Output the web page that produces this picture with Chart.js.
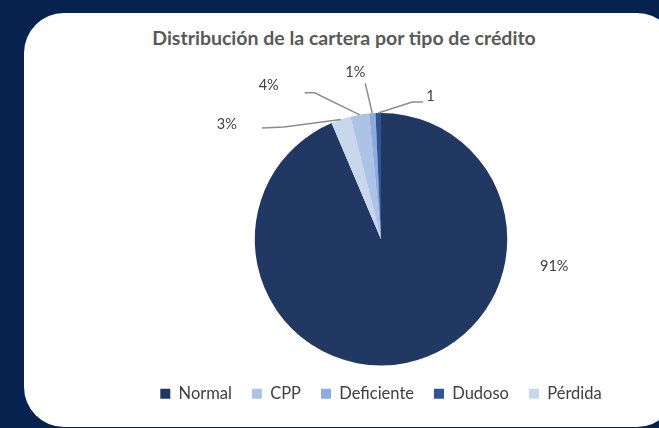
<!DOCTYPE html>
<html>
<head>
    <title>Distribución de la cartera</title>
    <script src="https://cdn.jsdelivr.net/npm/chart.js"></script>
    <style>
        body { margin: 0; width: 659px; height: 428px; background: #062350; overflow: hidden; font-family: Lato, sans-serif; }
        #card { position: absolute; left: 24px; top: 13px; width: 653px; height: 414px; background: #fff; border-radius: 40px; }
        #title { position: absolute; left: 24px; width: 640px; top: 26px; text-align: center; font-weight: bold; font-size: 19.5px; color: #595959; }
        #wrap { position: absolute; left: 101px; top: 60px; width: 560px; height: 352px; }
    </style>
</head>
<body>
    <div id="card"></div>
    <div id="title">Distribución de la cartera por tipo de crédito</div>
    <div id="wrap"><canvas id="pieChart"></canvas></div>

    <script>
        // values, texts as printed on the chart
        const labels = ['Normal', 'Pérdida', 'CPP', 'Deficiente', 'Dudoso'];
        const shares = [93.6, 2.5, 2.4, 0.8, 0.7];
        const shareText = ['91%', '3%', '4%', '1%', '1'];
        const legendOrder = ['Normal', 'CPP', 'Deficiente', 'Dudoso', 'Pérdida'];
        const colors = ['#213863', '#c8d7ec', '#adc3e5', '#8faadc', '#2f5597'];

        // leader line styling per slice, offsets from the slice edge
        const leaders = [
            { text: [159, 27], align: 'left', line: null, fromCenter: true },
            { line: [[-57, 7.5], [-79, 8.5]], text: [-104, 4.5], align: 'right' },
            { line: [[-45, -22], [-55, -22]], text: [-81, -29], align: 'right' },
            { line: [[-7, -30], [-7, -30]], text: [-17, -41], align: 'center' },
            { line: [[34, -11], [45, -11]], text: [48, -17], align: 'left' }
        ];

        const leaderPlugin = {
            id: 'leaders',
            afterDatasetsDraw(chart) {
                const ctx = chart.ctx;
                const arcs = chart.getDatasetMeta(0).data;
                ctx.save();
                ctx.font = '14.5px Lato';
                ctx.fillStyle = '#404040';
                ctx.textBaseline = 'middle';
                arcs.forEach((arc, i) => {
                    const p = arc.getProps(['x', 'y', 'startAngle', 'endAngle', 'outerRadius'], true);
                    const mid = (p.startAngle + p.endAngle) / 2;
                    const ax = p.x + Math.cos(mid) * p.outerRadius;
                    const ay = p.y + Math.sin(mid) * p.outerRadius;
                    const l = leaders[i];
                    const ox = l.fromCenter ? p.x : ax;
                    const oy = l.fromCenter ? p.y : ay;
                    if (l.line) {
                        ctx.strokeStyle = '#8c8c8c';
                        ctx.lineWidth = 1.5;
                        ctx.beginPath();
                        ctx.moveTo(ax, ay);
                        l.line.forEach(pt => ctx.lineTo(ax + pt[0], ay + pt[1]));
                        ctx.stroke();
                    }
                    ctx.textAlign = l.align;
                    ctx.fillText(shareText[i], ox + l.text[0], oy + l.text[1]);
                });
                ctx.restore();
            }
        };

        const ctx = document.getElementById('pieChart').getContext('2d');
        new Chart(ctx, {
            type: 'pie',
            data: {
                labels: labels,
                datasets: [{
                    data: shares,
                    backgroundColor: colors,
                    borderWidth: 0
                }]
            },
            options: {
                responsive: true,
                maintainAspectRatio: false,
                animation: false,
                layout: { padding: { top: 53, bottom: 0 } },
                plugins: {
                    tooltip: { enabled: false },
                    legend: {
                        position: 'bottom',
                        labels: {
                            boxWidth: 10,
                            boxHeight: 10,
                            padding: 20,
                            color: '#404040',
                            font: { family: 'Lato', size: 16.5 },
                            sort: (a, b) => legendOrder.indexOf(a.text) - legendOrder.indexOf(b.text)
                        }
                    }
                }
            },
            plugins: [leaderPlugin]
        });
    </script>
</body>
</html>
